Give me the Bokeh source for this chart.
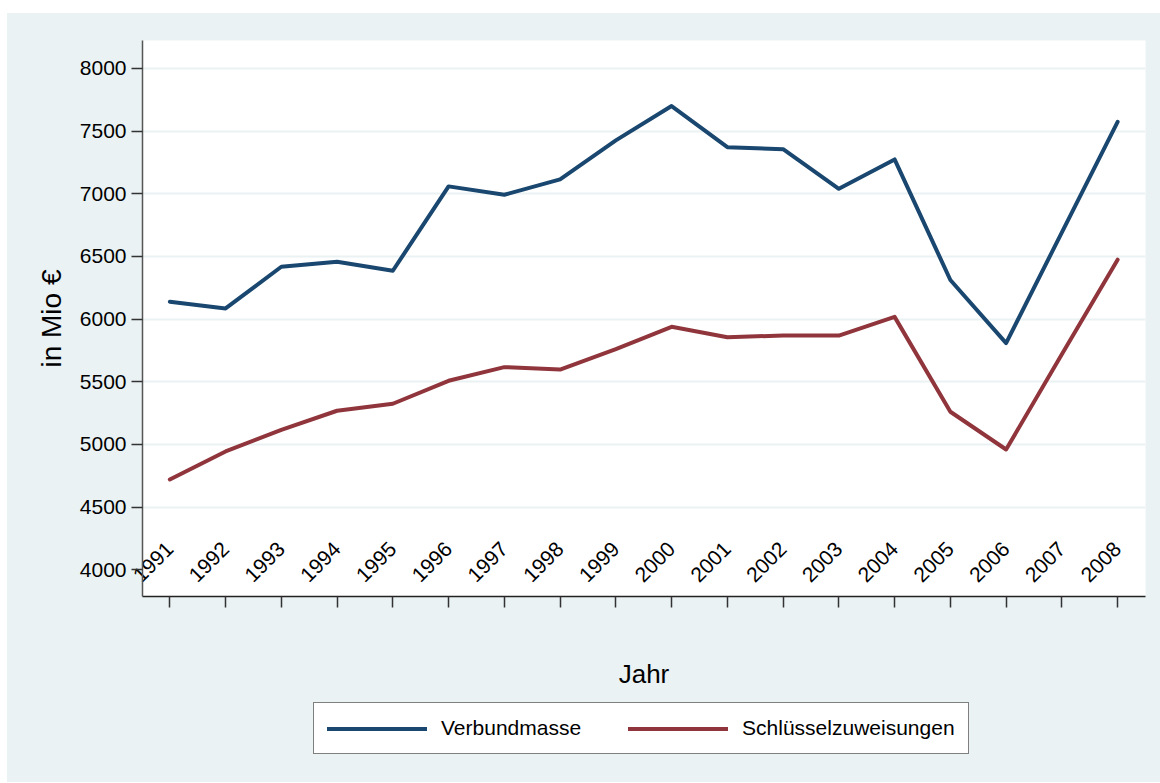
import math
from bokeh.plotting import figure
from bokeh.layouts import column
from bokeh.models import Range1d, FixedTicker, Legend, LegendItem
from bokeh.embed import file_html
from bokeh.resources import INLINE

# ---- data ----
years = list(range(1991, 2009))
verbundmasse = [6139, 6085, 6418, 6458, 6386, 7059, 6992, 7115, 7426,
                7700, 7372, 7356, 7040, 7274, 6312, 5809, 6692, 7574]
schluesselzuweisungen = [4721, 4944, 5117, 5269, 5325, 5508, 5617, 5598, 5761,
                         5939, 5856, 5869, 5869, 6018, 5261, 4960, 5720, 6474]
y_ticks = [4000, 4500, 5000, 5500, 6000, 6500, 7000, 7500, 8000]
year_labels = {y: str(y) for y in years}
series_names = ["Verbundmasse", "Schlüsselzuweisungen"]

# ---- style ----
BG = "#EAF2F3"
BLUE = "#1A476F"
RED = "#90353B"
FONT = "Liberation Sans"
LINE_W = 4

p = figure(width=1153, height=687, output_backend="svg", toolbar_location=None,
           x_range=Range1d(1990.51, 2008.5), y_range=Range1d(3787, 8223),
           min_border_left=135, min_border_top=27, min_border_right=15,
           min_border_bottom=104, background_fill_color="white",
           border_fill_color=BG, outline_line_color=None)

p.line(years, verbundmasse, line_color=BLUE, line_width=LINE_W,
       line_join="round", line_cap="round")
p.line(years, schluesselzuweisungen, line_color=RED, line_width=LINE_W,
       line_join="round", line_cap="round")

# grid
p.xgrid.visible = False
p.ygrid.ticker = FixedTicker(ticks=y_ticks[1:])
p.ygrid.grid_line_color = BG
p.ygrid.grid_line_width = 2

# y axis
ya = p.yaxis[0]
ya.ticker = FixedTicker(ticks=y_ticks)
ya.major_label_text_font = FONT
ya.major_label_text_font_size = "21px"
ya.major_label_text_color = "black"
ya.major_tick_out = 11
ya.major_tick_in = 0
ya.minor_tick_out = 0
ya.minor_tick_in = 0
ya.axis_line_color = "#555555"
ya.axis_line_width = 1.5
ya.major_tick_line_color = "#333333"
ya.major_tick_line_width = 1.5
ya.major_label_standoff = 5
ya.axis_label = "in Mio €"
ya.axis_label_text_font = FONT
ya.axis_label_text_font_size = "28px"
ya.axis_label_text_font_style = "normal"
ya.axis_label_text_color = "black"
ya.axis_label_standoff = 10

# x axis: tick labels rotated 45 degrees, drawn inside the plot area
xa = p.xaxis[0]
xa.ticker = FixedTicker(ticks=years)
xa.major_label_overrides = year_labels
xa.major_label_orientation = math.pi / 4
xa.major_label_text_font = FONT
xa.major_label_text_font_size = "21px"
xa.major_label_text_color = "black"
xa.major_label_standoff = -62
xa.major_tick_out = 11
xa.major_tick_in = 0
xa.minor_tick_out = 0
xa.minor_tick_in = 0
xa.axis_line_color = "#222222"
xa.axis_line_width = 1.5
xa.major_tick_line_color = "#333333"
xa.major_tick_line_width = 1.5
xa.axis_label = "Jahr"
xa.axis_label_text_font = FONT
xa.axis_label_text_font_size = "26px"
xa.axis_label_text_font_style = "normal"
xa.axis_label_text_color = "black"
xa.axis_label_standoff = 68

# legend strip below the chart (its key lines are the same series, outside its view)
leg = figure(width=1153, height=82, output_backend="svg", toolbar_location=None,
             x_range=Range1d(0, 1), y_range=Range1d(0, 1),
             x_axis_type=None, y_axis_type=None, min_border=0,
             background_fill_color=BG, border_fill_color=BG, outline_line_color=None)
leg.xgrid.visible = False
leg.ygrid.visible = False
k1 = leg.line(years, verbundmasse, line_color=BLUE, line_width=LINE_W, line_cap="round")
k2 = leg.line(years, schluesselzuweisungen, line_color=RED, line_width=LINE_W, line_cap="round")

legend = Legend(items=[LegendItem(label=series_names[0], renderers=[k1]),
                       LegendItem(label=series_names[1], renderers=[k2])],
                orientation="horizontal", location=(171, 28),
                border_line_color="black", border_line_width=1.5,
                background_fill_color="white", background_fill_alpha=1.0,
                padding=13, spacing=47, glyph_width=100, glyph_height=23,
                label_standoff=14, label_text_font=FONT, label_text_font_size="21px",
                label_text_color="black", margin=0)
leg.add_layout(legend)

layout = column(p, leg, spacing=0)
layout.margin = (13, 0, 0, 7)
layout.styles = {"background-color": BG}

open("out.html", "w").write(file_html(layout, INLINE))
